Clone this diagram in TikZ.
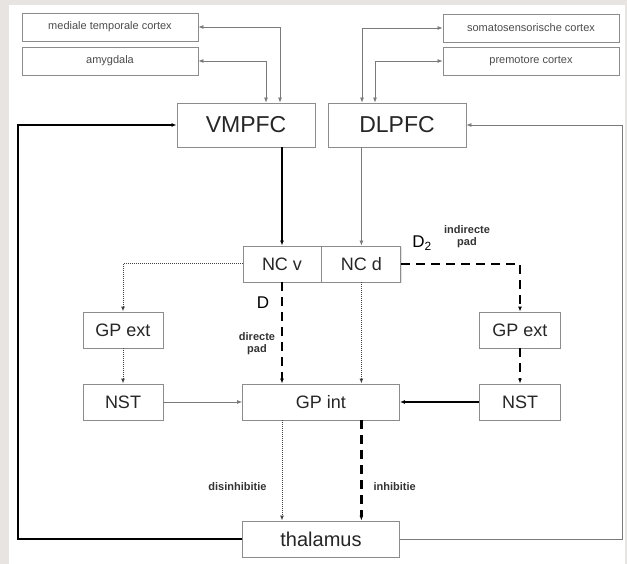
\documentclass[tikz,border=0pt]{standalone}
\usepackage{fontspec}
\setmainfont{Liberation Sans}
\usetikzlibrary{arrows.meta,positioning,shadows}

\definecolor{bgGrey}{HTML}{E8E4E2}
\definecolor{boxLine}{HTML}{8C8C8C}
\definecolor{thinGrey}{HTML}{7A7A7A}

\tikzset{
  >={Latex[length=5pt,width=4pt]},
  box/.style={draw=boxLine, line width=0.9pt, fill=white, inner sep=0pt,
    minimum height=36pt, drop shadow={shadow xshift=0.8pt, shadow yshift=-1pt, fill=gray!45},
    font=\fontsize{18}{18}\selectfont, text=black!85},
  cortexbox/.style={box, minimum width=176pt, minimum height=28pt,
    font=\fontsize{11}{11}\selectfont, text=black!70},
  pfcbox/.style={box, minimum width=138pt, minimum height=44pt,
    font=\fontsize{23}{23}\selectfont},
  thinline/.style={draw=thinGrey, line width=0.7pt},
  thickline/.style={draw=black, line width=2pt},
  dotline/.style={draw=black!75, line width=1pt, densely dotted},
  dashline/.style={draw=black, line width=2.4pt, dash pattern=on 9pt off 6pt},
  padlabel/.style={font=\bfseries\fontsize{11}{12}\selectfont, align=center, text=black!80},
}

\begin{document}
\begin{tikzpicture}[x=1pt,y=-1pt]
  % background
  \fill[bgGrey] (0,0) rectangle (627,564);
  \fill[white] (9,5) rectangle (625,564);
  \useasboundingbox (0,0) rectangle (627,564);

  % cortex areas
  \node[cortexbox] (medial) at (110,27) {mediale temporale cortex};
  \node[cortexbox] (amygdala) at (110,61) {amygdala};
  \node[cortexbox] (somato) at (531,28) {somatosensorische cortex};
  \node[cortexbox] (premotor) at (531,61) {premotore cortex};

  % prefrontal cortex
  \node[pfcbox] (vmpfc) at (246,125) {VMPFC};
  \node[pfcbox] (dlpfc) at (397,125) {DLPFC};

  % basal ganglia
  \node[box, minimum width=78pt] (ncv) at (282,264) {NC v};
  \node[box, minimum width=79pt, right=0pt of ncv] (ncd) {NC d};
  \node[box, minimum width=80pt] (gpextL) at (123,330) {GP ext};
  \node[box, minimum width=80pt] (nstL) at (123,402) {NST};
  \node[box, minimum width=157pt] (gpint) at (321,402) {GP int};
  \node[box, minimum width=81pt] (gpextR) at (520,330) {GP ext};
  \node[box, minimum width=81pt] (nstR) at (520,402) {NST};
  \node[box, minimum width=157pt, font=\fontsize{20}{20}\selectfont] (thal) at (321,539) {thalamus};

  % corners of the loops
  \coordinate (loopL) at (18,539);
  \coordinate (loopR) at (622,539);

  % inputs to the prefrontal cortex
  \draw[thinline, <->] (medial.east) -| ([xshift=34pt]vmpfc.north);
  \draw[thinline, <->] (amygdala.east) -| ([xshift=20pt]vmpfc.north);
  \draw[thinline, <->] (somato.west) -| ([xshift=-35pt]dlpfc.north);
  \draw[thinline, <->] (premotor.west) -| ([xshift=-22pt]dlpfc.north);

  % prefrontal cortex to striatum
  \draw[thickline, ->] (ncv.north |- vmpfc.south) -- (ncv.north);
  \draw[thinline, ->] (ncd.north |- dlpfc.south) -- (ncd.north);

  % direct pathway
  \draw[dashline, ->] (ncv.south) -- (ncv.south |- gpint.north);
  \draw[dotline, ->] (ncd.south) -- (ncd.south |- gpint.north);
  \node (dOne) at (263,303) {\fontsize{17}{17}\selectfont D};
  \node[padlabel] (directe) at (257,344) {directe\\pad};

  % left loop
  \draw[dotline, ->] (ncv.west) -| (gpextL.north);
  \draw[dotline, ->] (gpextL.south) -- (nstL.north);
  \draw[thinline, ->] (nstL.east) -- (gpint.west);

  % indirect pathway
  \draw[dashline, ->] (ncd.east) -| (gpextR.north);
  \draw[dashline, ->] (gpextR.south) -- (nstR.north);
  \draw[thickline, ->] (nstR.west) -- (gpint.east);
  \node (dTwo) at (422,243) {\fontsize{17}{17}\selectfont D\textsubscript{2}};
  \node[padlabel] (indirecte) at (467,237) {indirecte\\pad};

  % output to thalamus
  \draw[dotline, ->] (gpint.south -| ncv) -- (thal.north -| ncv);
  \draw[dashline, ->] (gpint.south -| ncd) -- (thal.north -| ncd);
  \node[padlabel, anchor=east] (disinh) at (270,487) {disinhibitie};
  \node[padlabel, anchor=west] (inh) at (370,487) {inhibitie};

  % thalamus back to prefrontal cortex
  \draw[thickline, ->] (thal.west) -- (loopL) |- (vmpfc.west);
  \draw[thinline, ->] (thal.east) -- (loopR) |- (dlpfc.east);
\end{tikzpicture}
\end{document}
